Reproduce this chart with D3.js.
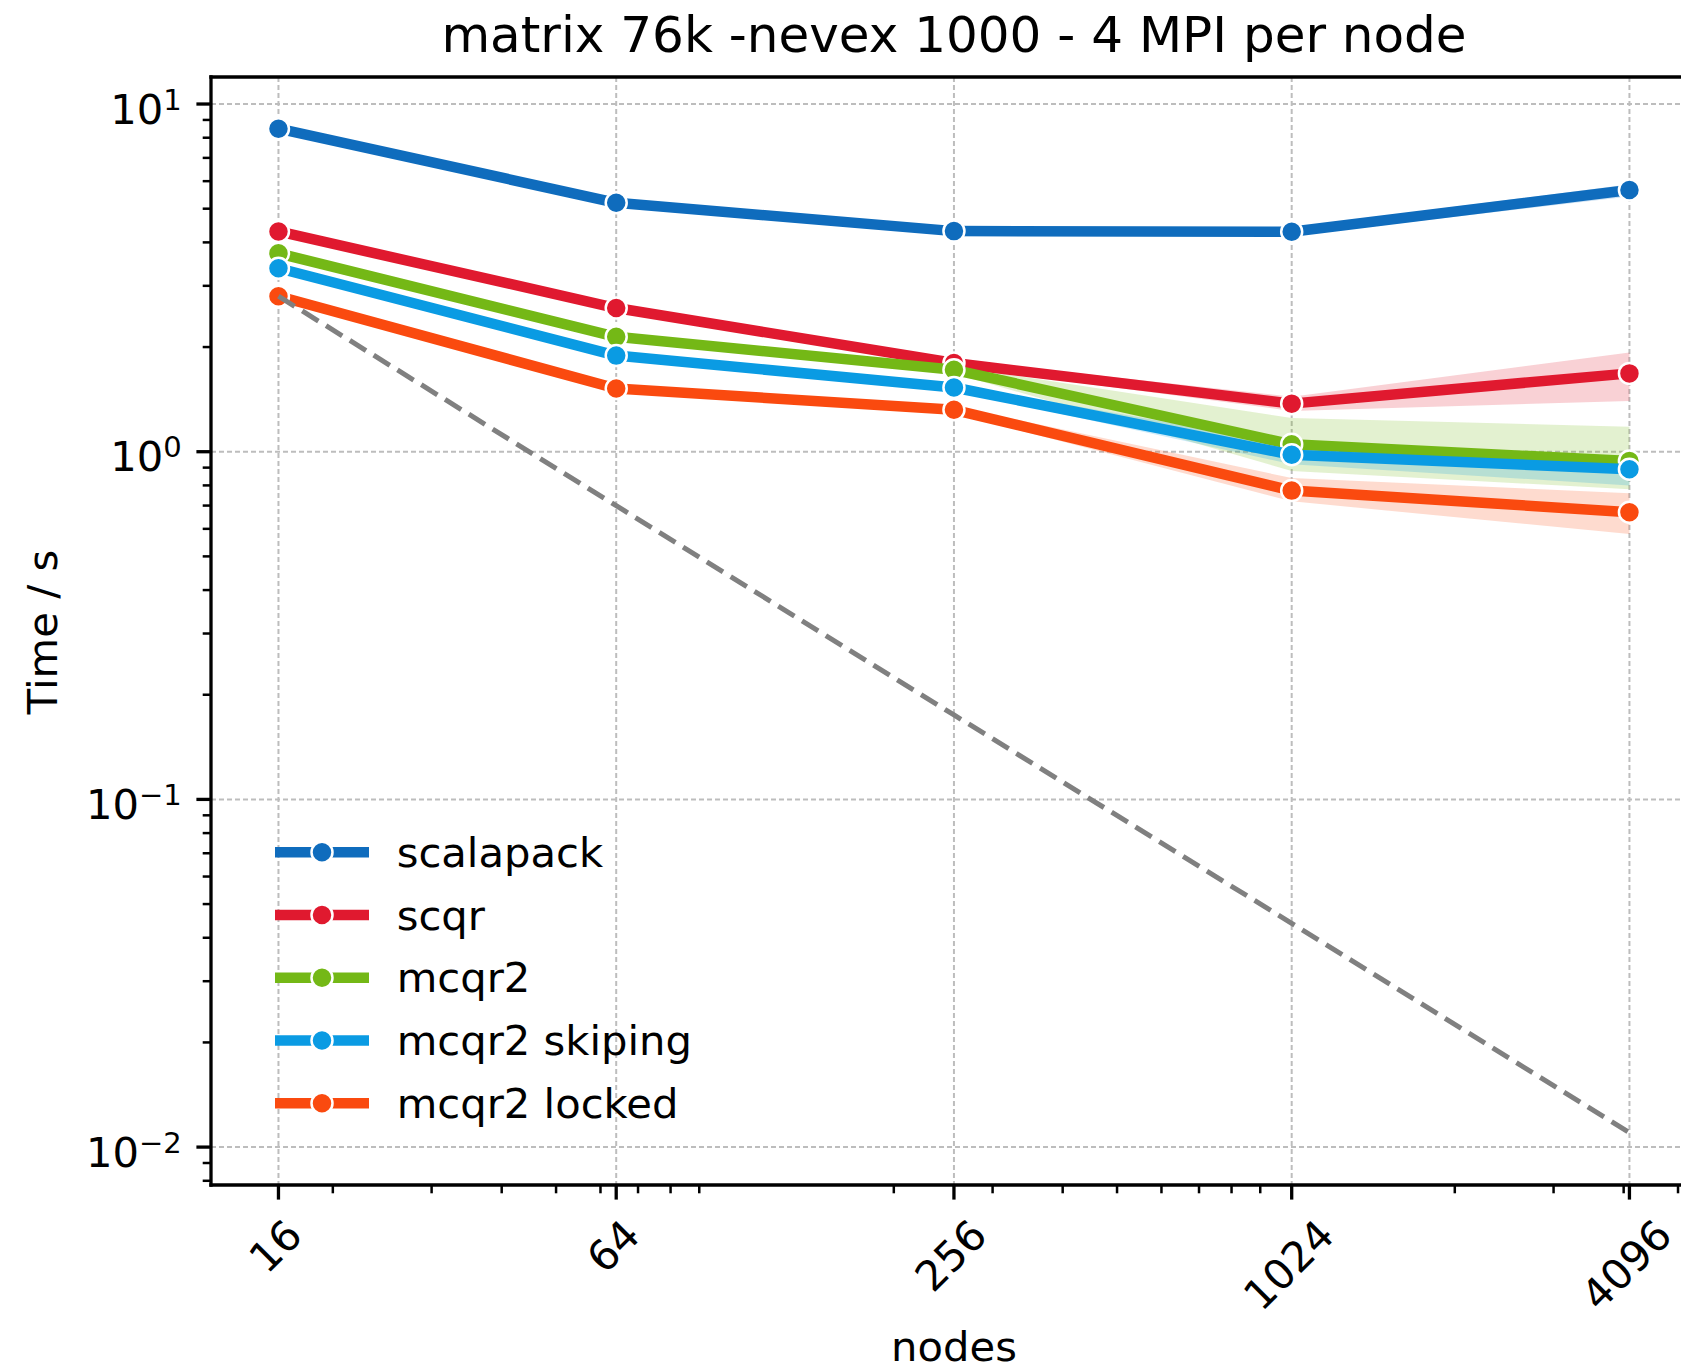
<!DOCTYPE html>
<html lang="en">
<head>
<meta charset="UTF-8">
<title>matrix 76k -nevex 1000 - 4 MPI per node</title>
<script src="https://d3js.org/d3.v7.min.js"></script>
<style>
    body {
        margin: 0;
        padding: 0;
        background: #fff;
    }
    svg {
        display: block;
        font-family: "DejaVu Sans", sans-serif;
    }
</style>
</head>
<body>
<svg id="chart"></svg>
<script>
// x values (number of nodes) and tick labels
const nodes = [16, 64, 256, 1024, 4096];
const xTickLabels = ["16", "64", "256", "1024", "4096"];
const yTickValues = [0.01, 0.1, 1, 10];
const yTickExponents = ["\u22122", "\u22121", "0", "1"];

// mean time per method, plus lower / upper edge of the confidence band
const scalapackTime = [8.49, 5.20, 4.31, 4.29, 5.66];
const scalapackLow  = [8.40, 5.14, 4.25, 4.18, 5.42];
const scalapackHigh = [8.58, 5.26, 4.37, 4.40, 5.88];

const scqrTime = [4.30, 2.59, 1.80, 1.375, 1.68];
const scqrLow  = [4.25, 2.55, 1.76, 1.31, 1.40];
const scqrHigh = [4.35, 2.63, 1.84, 1.44, 1.93];

const mcqr2Time = [3.72, 2.14, 1.72, 1.05, 0.94];
const mcqr2Low  = [3.67, 2.10, 1.68, 0.88, 0.78];
const mcqr2High = [3.77, 2.18, 1.76, 1.25, 1.18];

const skipingTime = [3.37, 1.89, 1.53, 0.98, 0.89];
const skipingLow  = [3.32, 1.86, 1.50, 0.92, 0.80];
const skipingHigh = [3.42, 1.92, 1.56, 1.05, 0.97];

const lockedTime = [2.80, 1.52, 1.32, 0.773, 0.67];
const lockedLow  = [2.76, 1.49, 1.29, 0.72, 0.58];
const lockedHigh = [2.84, 1.55, 1.35, 0.84, 0.76];

// ideal scaling reference (dashed)
const idealTime = [2.80, 0.70, 0.175, 0.044, 0.011];

const seriesNames = ["scalapack", "scqr", "mcqr2", "mcqr2 skiping", "mcqr2 locked"];
const seriesColors = ["#0f6cbd", "#e0192f", "#74b816", "#0a9be3", "#fa4a0f"];

const series = [
    { mean: scalapackTime, low: scalapackLow, high: scalapackHigh },
    { mean: scqrTime, low: scqrLow, high: scqrHigh },
    { mean: mcqr2Time, low: mcqr2Low, high: mcqr2High },
    { mean: skipingTime, low: skipingLow, high: skipingHigh },
    { mean: lockedTime, low: lockedLow, high: lockedHigh }
].map((s, i) => ({
    name: seriesNames[i],
    color: seriesColors[i],
    points: nodes.map((n, j) => ({ n: n, t: s.mean[j], lo: s.low[j], hi: s.high[j] }))
}));

const width = 1681;
const height = 1372;
const plot = { left: 211, right: 1697, top: 77, bottom: 1185 };
const fontSize = 41.7;
const tickMajor = 14.6;
const tickMinor = 8.3;
const lineWidth = 10.5;
const markerR = 10.5;

const svg = d3.select("#chart")
    .attr("width", width)
    .attr("height", height);

svg.append("rect")
    .attr("width", width)
    .attr("height", height)
    .attr("fill", "#fff");

const x = d3.scaleLog()
    .domain([12.13, 5405])
    .range([plot.left, plot.right]);

const y = d3.scaleLog()
    .domain([0.00778, 11.96])
    .range([plot.bottom, plot.top]);

svg.append("clipPath")
    .attr("id", "plot-clip")
    .append("rect")
    .attr("x", plot.left)
    .attr("y", plot.top)
    .attr("width", plot.right - plot.left)
    .attr("height", plot.bottom - plot.top);

// minor ticks at 2..9 x 10^k inside the domain
function minorTicks(scale) {
    const [a, b] = scale.domain();
    const out = [];
    for (let e = Math.floor(Math.log10(a)); e <= Math.ceil(Math.log10(b)); e++) {
        for (let m = 2; m <= 9; m++) {
            const v = m * Math.pow(10, e);
            if (v >= a && v <= b) out.push(v);
        }
    }
    return out;
}

// grid
const grid = svg.append("g")
    .attr("stroke", "#bdbdbd")
    .attr("stroke-width", 2)
    .attr("stroke-dasharray", "5,3");

grid.selectAll(".gx")
    .data(nodes)
    .join("line")
    .attr("x1", d => x(d))
    .attr("x2", d => x(d))
    .attr("y1", plot.top)
    .attr("y2", plot.bottom);

grid.selectAll(".gy")
    .data(yTickValues)
    .join("line")
    .attr("x1", plot.left)
    .attr("x2", plot.right)
    .attr("y1", d => y(d))
    .attr("y2", d => y(d));

const plotArea = svg.append("g")
    .attr("clip-path", "url(#plot-clip)");

// confidence bands first (they sit under all lines)
const area = d3.area()
    .x(d => x(d.n))
    .y0(d => y(d.lo))
    .y1(d => y(d.hi));

plotArea.selectAll(".band")
    .data(series)
    .join("path")
    .attr("class", "band")
    .attr("d", d => area(d.points))
    .attr("fill", d => d.color)
    .attr("fill-opacity", 0.2)
    .attr("stroke", "none");

const line = d3.line()
    .x(d => x(d.n))
    .y(d => y(d.t));

series.forEach(s => {
    plotArea.append("path")
        .attr("d", line(s.points))
        .attr("fill", "none")
        .attr("stroke", s.color)
        .attr("stroke-width", lineWidth)
        .attr("stroke-linejoin", "round");

    plotArea.selectAll(null)
        .data(s.points)
        .join("circle")
        .attr("cx", d => x(d.n))
        .attr("cy", d => y(d.t))
        .attr("r", markerR)
        .attr("fill", s.color)
        .attr("stroke", "#fff")
        .attr("stroke-width", 2.5);
});

// ideal scaling line
plotArea.append("path")
    .attr("d", d3.line().x((d, i) => x(nodes[i])).y(d => y(d))(idealTime))
    .attr("fill", "none")
    .attr("stroke", "#808080")
    .attr("stroke-width", 5)
    .attr("stroke-dasharray", "19,9");

// spines
const spines = svg.append("g")
    .attr("stroke", "#000")
    .attr("stroke-width", 3.3)
    .attr("stroke-linecap", "square");

spines.append("line")
    .attr("x1", plot.left).attr("x2", plot.right)
    .attr("y1", plot.top).attr("y2", plot.top);
spines.append("line")
    .attr("x1", plot.left).attr("x2", plot.right)
    .attr("y1", plot.bottom).attr("y2", plot.bottom);
spines.append("line")
    .attr("x1", plot.left).attr("x2", plot.left)
    .attr("y1", plot.top).attr("y2", plot.bottom);
spines.append("line")
    .attr("x1", plot.right).attr("x2", plot.right)
    .attr("y1", plot.top).attr("y2", plot.bottom);

// ticks
const ticks = svg.append("g").attr("stroke", "#000");

ticks.selectAll(".xmaj")
    .data(nodes)
    .join("line")
    .attr("x1", d => x(d)).attr("x2", d => x(d))
    .attr("y1", plot.bottom).attr("y2", plot.bottom + tickMajor)
    .attr("stroke-width", 3.3);

ticks.selectAll(".xmin")
    .data(minorTicks(x))
    .join("line")
    .attr("x1", d => x(d)).attr("x2", d => x(d))
    .attr("y1", plot.bottom).attr("y2", plot.bottom + tickMinor)
    .attr("stroke-width", 2.5);

ticks.selectAll(".ymaj")
    .data(yTickValues)
    .join("line")
    .attr("x1", plot.left - tickMajor).attr("x2", plot.left)
    .attr("y1", d => y(d)).attr("y2", d => y(d))
    .attr("stroke-width", 3.3);

ticks.selectAll(".ymin")
    .data(minorTicks(y))
    .join("line")
    .attr("x1", plot.left - tickMinor).attr("x2", plot.left)
    .attr("y1", d => y(d)).attr("y2", d => y(d))
    .attr("stroke-width", 2.5);

// y tick labels 10^k
const yLabels = svg.append("g")
    .attr("font-size", fontSize)
    .attr("fill", "#000");

yTickValues.forEach((v, i) => {
    const t = yLabels.append("text")
        .attr("x", plot.left - tickMajor - 14.6)
        .attr("y", y(v) + 19.5)
        .attr("text-anchor", "end");
    t.append("tspan").text("10");
    t.append("tspan")
        .attr("dy", -14)
        .attr("font-size", 29)
        .text(yTickExponents[i]);
});

// x tick labels, rotated 45 degrees, bbox centred on the tick
const xLabelTop = plot.bottom + tickMajor + 14.6;
svg.append("g")
    .attr("font-size", fontSize)
    .attr("fill", "#000")
    .selectAll("text")
    .data(nodes)
    .join("text")
    .attr("text-anchor", "middle")
    .attr("dominant-baseline", "central")
    .text((d, i) => xTickLabels[i])
    .each(function(d) {
        const w = this.getComputedTextLength();
        const h = (w + fontSize * 0.9) / Math.SQRT2;
        d3.select(this)
            .attr("transform", `translate(${x(d) - 3},${xLabelTop + h / 2}) rotate(-45)`);
    });

// axis labels and title
svg.append("text")
    .attr("x", (plot.left + plot.right) / 2)
    .attr("y", 1361)
    .attr("text-anchor", "middle")
    .attr("font-size", fontSize)
    .text("nodes");

svg.append("text")
    .attr("transform", "translate(57,632) rotate(-90)")
    .attr("text-anchor", "middle")
    .attr("font-size", fontSize)
    .text("Time / s");

svg.append("text")
    .attr("x", (plot.left + plot.right) / 2)
    .attr("y", 52)
    .attr("text-anchor", "middle")
    .attr("font-size", 50)
    .text("matrix 76k -nevex 1000 - 4 MPI per node");

// legend (no frame)
const legend = svg.append("g");
const legendY0 = 852.3;
const legendStep = 62.75;

series.forEach((s, i) => {
    const ly = legendY0 + i * legendStep;
    legend.append("line")
        .attr("x1", 275).attr("x2", 369)
        .attr("y1", ly).attr("y2", ly)
        .attr("stroke", s.color)
        .attr("stroke-width", lineWidth);
    legend.append("circle")
        .attr("cx", 322)
        .attr("cy", ly)
        .attr("r", markerR)
        .attr("fill", s.color)
        .attr("stroke", "#fff")
        .attr("stroke-width", 2.5);
    legend.append("text")
        .attr("x", 396.7)
        .attr("y", ly)
        .attr("dy", "0.35em")
        .attr("font-size", fontSize)
        .text(s.name);
});
</script>
</body>
</html>
